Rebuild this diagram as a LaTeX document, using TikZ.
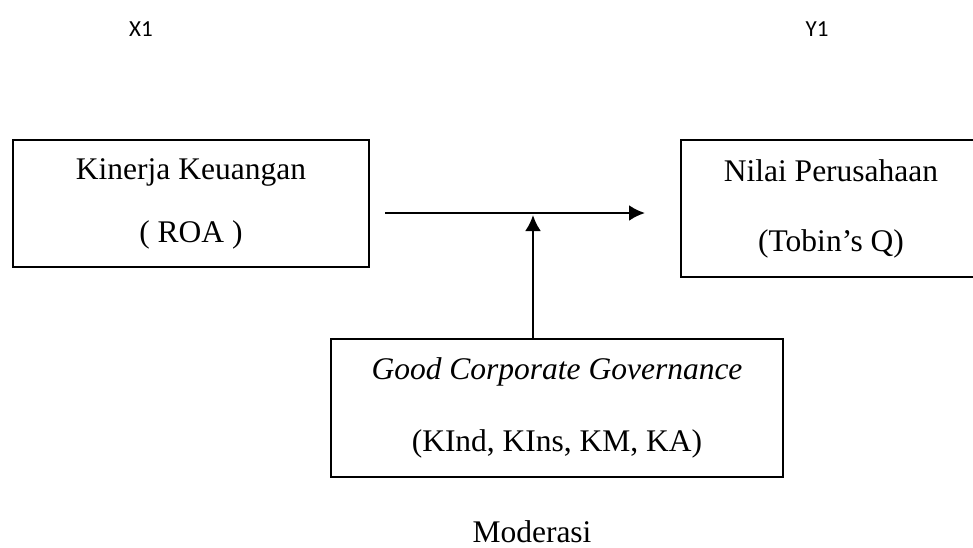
\documentclass[tikz,border=0pt]{standalone}
\usepackage{fontspec}
\setmainfont{Liberation Serif}
\newfontfamily\varfont{Carlito}
\usetikzlibrary{arrows.meta}

\begin{document}
\begin{tikzpicture}[
  x=0.5pt, y=-0.5pt,
  box/.style={draw, line width=0.9pt, align=center, inner sep=0pt,
    font=\fontsize{15.75}{31.5}\selectfont},
  var/.style={anchor=base, font=\varfont\fontsize{11.5}{13}\selectfont},
  link/.style={line width=1.3pt, -{Latex[length=8pt,width=8pt]}},
  ]
  \useasboundingbox (0,0) rectangle (973,547);
  % variable labels
  \node[var] (x1) at (141,36) {X1};
  \node[var] (y1) at (817,36) {Y1};
  % boxes
  \node[box, minimum width=178pt, minimum height=63.5pt] (kinerja) at (191,203.5)
    {Kinerja Keuangan\\( ROA )};
  \node[box, minimum width=150pt, minimum height=68.5pt] (nilai) at (831,208.5)
    {Nilai Perusahaan\\[3.5pt](Tobin's Q)};
  \node[box, minimum width=226pt, minimum height=69pt] (gcg) at (557,408)
    {\textit{Good Corporate Governance}\\[4.5pt](KInd, KIns, KM, KA)};
  \node[anchor=base, font=\fontsize{15.75}{18}\selectfont] (moderasi) at (532,542) {Moderasi};
  % arrows
  \coordinate (from) at (385,213);
  \coordinate (to) at (645,213);
  \coordinate (meet) at (533,215);
  \draw[link] (from) -- (to);
  \draw[link] (gcg.north -| meet) -- (meet);
\end{tikzpicture}
\end{document}
